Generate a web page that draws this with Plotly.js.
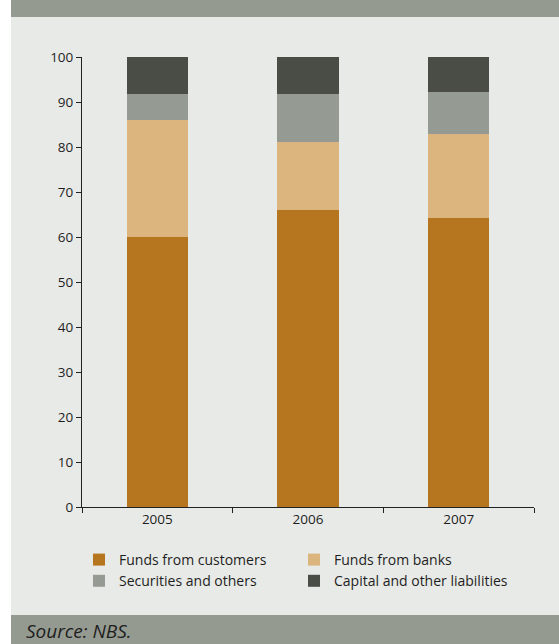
<!DOCTYPE html>
<html><head><meta charset="utf-8">
<script src="https://cdn.plot.ly/plotly-3.0.1.min.js"></script>
<style>html,body{margin:0;padding:0;background:#fff}#chart{width:559px;height:644px}</style>
</head><body><div id="chart"></div>
<script>
const years = ['2005', '2006', '2007'];
const fundsCustomers = [60.0, 66.0, 64.2];
const fundsBanks = [26.0, 15.1, 18.7];
const securities = [5.8, 10.7, 9.3];
const capital = [8.2, 8.2, 7.8];
const seriesNames = ['Funds from customers', 'Funds from banks', 'Securities and others', 'Capital and other liabilities'];
const seriesColors = ['#B5761F', '#DBB47E', '#959B92', '#494D45'];
const yTicks = [0, 10, 20, 30, 40, 50, 60, 70, 80, 90, 100];

const allSeries = [fundsCustomers, fundsBanks, securities, capital];
const traces = allSeries.map((vals, i) => ({
  type: 'bar', x: years, y: vals, name: seriesNames[i],
  marker: {color: seriesColors[i], line: {width: 0}},
  width: 0.405, hoverinfo: 'skip'
}));

// pixel -> paper helpers (plot area 82..534 x, 57..507 y)
const L = 82, R = 534, T = 57, B = 507;
const px = p => (p - L) / (R - L);
const py = p => (B - p) / (B - T);

const layout = {
  width: 559, height: 644,
  margin: {l: L, r: 559 - R, t: T, b: 644 - B, pad: 0},
  paper_bgcolor: '#ffffff', plot_bgcolor: 'rgba(0,0,0,0)',
  barmode: 'stack', bargap: 0.595,
  font: {family: 'Open Sans, Liberation Sans, Arial, sans-serif', size: 13.5, color: '#1e1e1e'},
  showlegend: true,
  legend: {orientation: 'h', traceorder: 'normal', x: px(79), xanchor: 'left', y: py(544), yanchor: 'top',
    bgcolor: 'rgba(0,0,0,0)', entrywidth: 170, entrywidthmode: 'pixels', itemwidth: 30,
    font: {size: 14, color: '#1e1e1e'}, tracegroupgap: 0, borderwidth: 0},
  xaxis: {type: 'category', showline: true, linecolor: '#222', linewidth: 1, ticks: 'outside', ticklen: 5,
    tickcolor: '#222', tickson: 'boundaries', showgrid: false, zeroline: false, fixedrange: true,
    tickfont: {size: 13.5, color: '#1e1e1e'}},
  yaxis: {range: [0, 100], tickvals: yTicks, showline: true, linecolor: '#222', linewidth: 1, ticks: 'outside',
    ticklen: 5, tickcolor: '#222', showgrid: false, zeroline: false, fixedrange: true,
    tickfont: {size: 13.5, color: '#1e1e1e'}},
  shapes: [
    {type: 'rect', xref: 'paper', yref: 'paper', x0: px(11), x1: px(559), y0: py(644), y1: py(0), fillcolor: '#E8EAE7', line: {width: 0}, layer: 'below'},
    {type: 'rect', xref: 'paper', yref: 'paper', x0: px(11), x1: px(559), y0: py(17), y1: py(0), fillcolor: '#959A91', line: {width: 0}, layer: 'below'},
    {type: 'rect', xref: 'paper', yref: 'paper', x0: px(11), x1: px(559), y0: py(644), y1: py(615), fillcolor: '#959A91', line: {width: 0}, layer: 'below'}
  ],
  annotations: [
    {xref: 'paper', yref: 'paper', x: px(24), y: py(631), xanchor: 'left', yanchor: 'middle', showarrow: false,
      text: '<i>Source: NBS.</i>', font: {size: 19, color: '#1e1e1e'}}
  ]
};
Plotly.newPlot('chart', traces, layout, {displayModeBar: false, staticPlot: true});
</script></body></html>
